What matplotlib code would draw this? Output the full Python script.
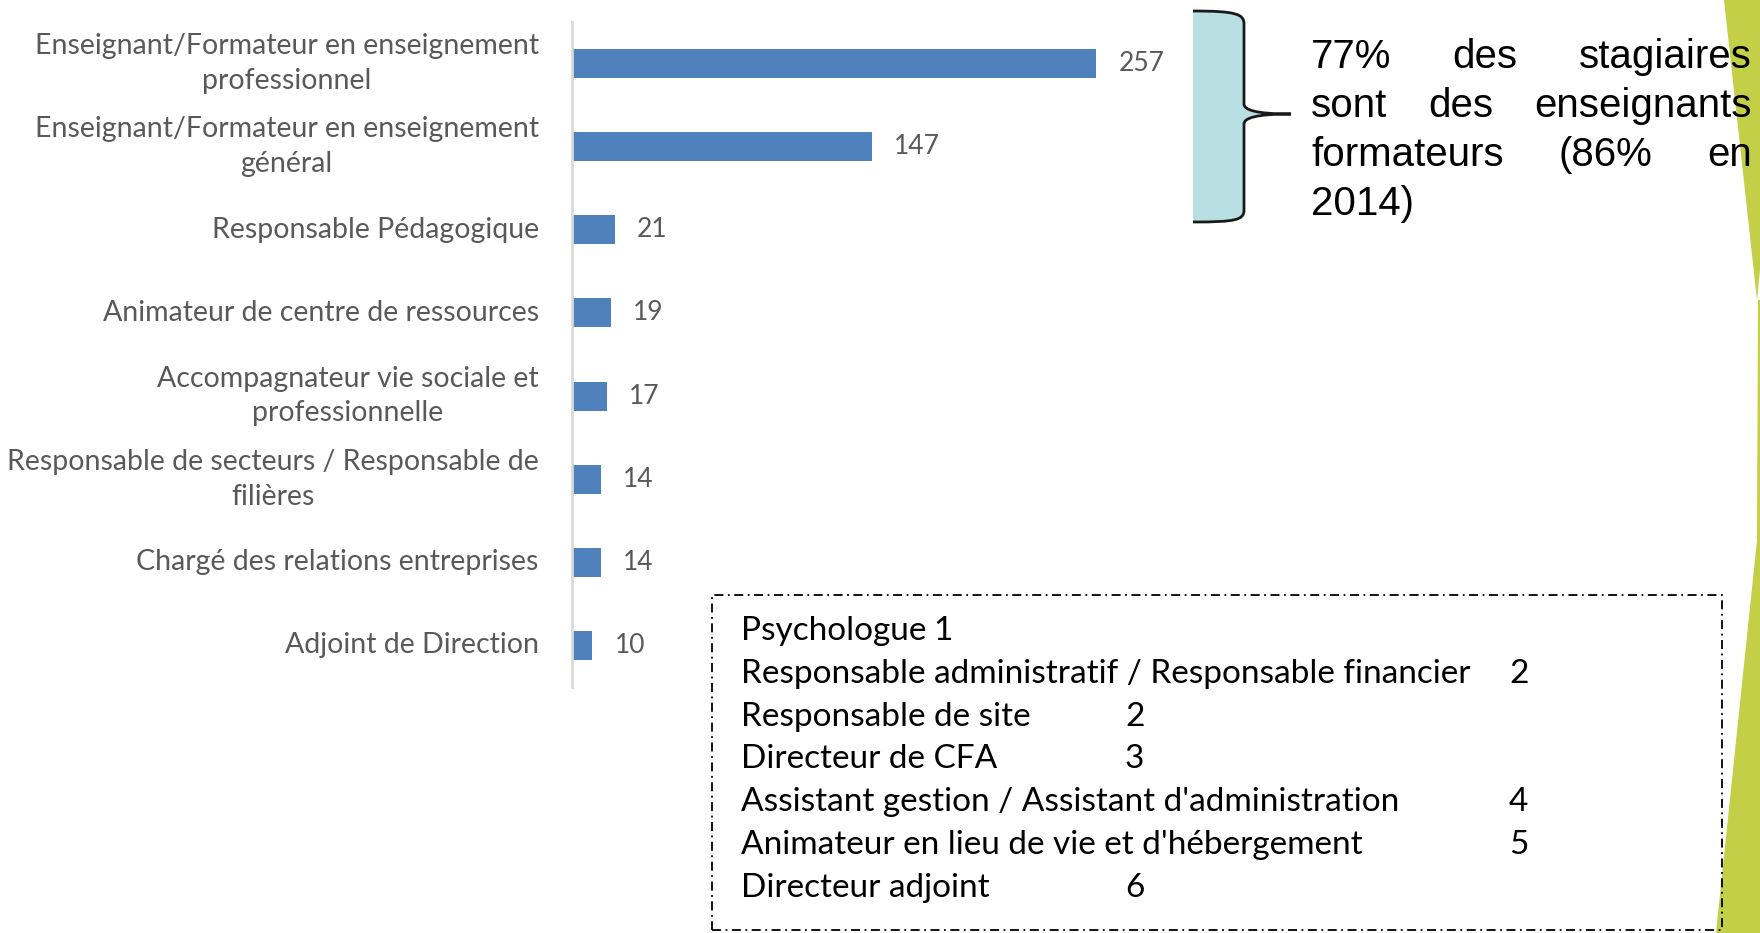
"""
Répartition des stagiaires par fonction (barres horizontales + encadrés)
"""
import matplotlib.pyplot as plt
from matplotlib.patches import PathPatch, Polygon, Rectangle
from matplotlib.path import Path


W, H = 1760, 933
BAR_COLOR = "#4F81BD"
LABEL_COLOR = "#595959"
BODY_FONT = "Lato"
NOTE_FONT = "Liberation Sans"

fonctions = [
    "Enseignant/Formateur en enseignement\nprofessionnel",
    "Enseignant/Formateur en enseignement\ngénéral",
    "Responsable Pédagogique",
    "Animateur de centre de ressources",
    "Accompagnateur vie sociale et\nprofessionnelle",
    "Responsable de secteurs / Responsable de\nfilières",
    "Chargé des relations entreprises",
    "Adjoint de Direction",
]
effectifs = [257, 147, 21, 19, 17, 14, 14, 10]

autres_fonctions = [
    "Psychologue",
    "Responsable administratif / Responsable financier",
    "Responsable de site",
    "Directeur de CFA",
    "Assistant gestion / Assistant d'administration",
    "Animateur en lieu de vie et d'hébergement",
    "Directeur adjoint",
]
autres_effectifs = [1, 2, 2, 3, 4, 5, 6]

note_lignes = [
    "77% des stagiaires",
    "sont des enseignants",
    "formateurs (86% en",
    "2014)",
]


def fx(x):
    return x / W


def fy(y):
    return 1 - y / H


def text_width(fig, t):
    """
    Largeur en pixels d'un texte déjà placé
    """
    return t.get_window_extent(fig.canvas.get_renderer()).width


def draw_bars(fig):
    ax = fig.add_axes([fx(572), fy(687), fx(1184) - fx(572), fy(22) - fy(687)])
    pos = list(range(len(fonctions)))
    ax.barh(pos, effectifs, height=0.35, color=BAR_COLOR)
    ax.set_xlim(0, 300)
    ax.set_ylim(len(fonctions) - 0.5, -0.5)
    ax.set_yticks(pos)
    ax.set_yticklabels(fonctions, fontsize=20.5, color=LABEL_COLOR, family=BODY_FONT)
    for lbl in ax.get_yticklabels():
        lbl.set_multialignment("center")
        lbl.set_linespacing(1.42)
        lbl.set_va("center")
    ax.tick_params(axis="y", length=0, pad=24)
    ax.set_xticks([])
    for side in ["top", "right", "bottom"]:
        ax.spines[side].set_visible(False)
    ax.spines["left"].set_color("#D9D9D9")
    ax.spines["left"].set_linewidth(2)

    for i, v in enumerate(effectifs):
        ax.annotate(str(v), xy=(v, i), xytext=(16, 0), textcoords="offset points",
                    va="center", ha="left", fontsize=19, color=LABEL_COLOR, family=BODY_FONT)


def draw_brace(fig):
    """
    Accolade turquoise qui regroupe les deux premières barres
    """
    pts = [(1193, 11), (1236, 11), (1244, 14), (1244, 24),
           (1244, 104),
           (1244, 110), (1256, 114), (1291, 114),
           (1256, 114), (1244, 118), (1244, 124),
           (1244, 210),
           (1244, 220), (1236, 222), (1193, 222)]
    codes = [Path.MOVETO, Path.CURVE4, Path.CURVE4, Path.CURVE4,
             Path.LINETO,
             Path.CURVE4, Path.CURVE4, Path.CURVE4,
             Path.CURVE4, Path.CURVE4, Path.CURVE4,
             Path.LINETO,
             Path.CURVE4, Path.CURVE4, Path.CURVE4]
    verts = [(fx(x), fy(y)) for x, y in pts]

    fill = Path(verts + [verts[0], verts[0]], codes + [Path.LINETO, Path.CLOSEPOLY])
    fig.add_artist(PathPatch(fill, facecolor="#B8E0E2", edgecolor="none",
                             transform=fig.transFigure))
    fig.add_artist(PathPatch(Path(verts, codes), facecolor="none", edgecolor="#1A1A1A",
                             lw=2, transform=fig.transFigure))


def draw_note(fig):
    """
    Texte justifié à droite de l'accolade
    """
    x0, x1 = 1311, 1752
    baselines = [68, 117, 166, 215]
    for k, (ligne, yb) in enumerate(zip(note_lignes, baselines)):
        mots = ligne.split()
        items = [fig.text(fx(x0), fy(yb), m, fontsize=29, family=NOTE_FONT,
                          va="baseline", ha="left") for m in mots]
        if len(mots) < 2 or k == len(note_lignes) - 1:
            continue
        widths = [text_width(fig, t) for t in items]
        gap = (x1 - x0 - sum(widths)) / (len(mots) - 1)
        x = x0
        for t, w in zip(items, widths):
            t.set_x(fx(x))
            x += w + gap


def draw_other_box(fig):
    """
    Encadré pointillé avec les fonctions à faible effectif
    """
    fig.add_artist(Rectangle((fx(712), fy(930)), fx(1722) - fx(712), fy(595) - fy(930),
                             fill=False, edgecolor="black", lw=1.3,
                             linestyle=(0, (5, 2.5, 1, 2.5)), transform=fig.transFigure))
    left, tab = 741, 192
    for i, (nom, n) in enumerate(zip(autres_fonctions, autres_effectifs)):
        y = 640 + i * 42.8
        t = fig.text(fx(left), fy(y), nom, fontsize=24, family=BODY_FONT, va="baseline")
        end = left + text_width(fig, t) + 4
        stop = left + tab * (int((end - left) // tab) + 1)
        fig.text(fx(stop), fy(y), str(n), fontsize=24, family=BODY_FONT, va="baseline")


def draw_decor(fig):
    # bandes vertes du thème de la diapositive
    fig.add_artist(Polygon([(fx(1724), fy(0)), (fx(1760), fy(0)), (fx(1760), fy(270)),
                            (fx(1757), fy(300))],
                           closed=True, facecolor="#C3CF46", edgecolor="none",
                           transform=fig.transFigure))
    fig.add_artist(Polygon([(fx(1758), fy(300)), (fx(1760), fy(300)), (fx(1760), fy(933)),
                            (fx(1716), fy(933)), (fx(1757), fy(540))],
                           closed=True, facecolor="#C3CF46", edgecolor="none",
                           transform=fig.transFigure))


fig = plt.figure(figsize=(W / 100, H / 100), dpi=100)
fig.patch.set_facecolor("white")
fig.canvas.draw()

draw_decor(fig)
draw_bars(fig)
draw_brace(fig)
draw_note(fig)
draw_other_box(fig)

fig.savefig("out.png", dpi=100)
